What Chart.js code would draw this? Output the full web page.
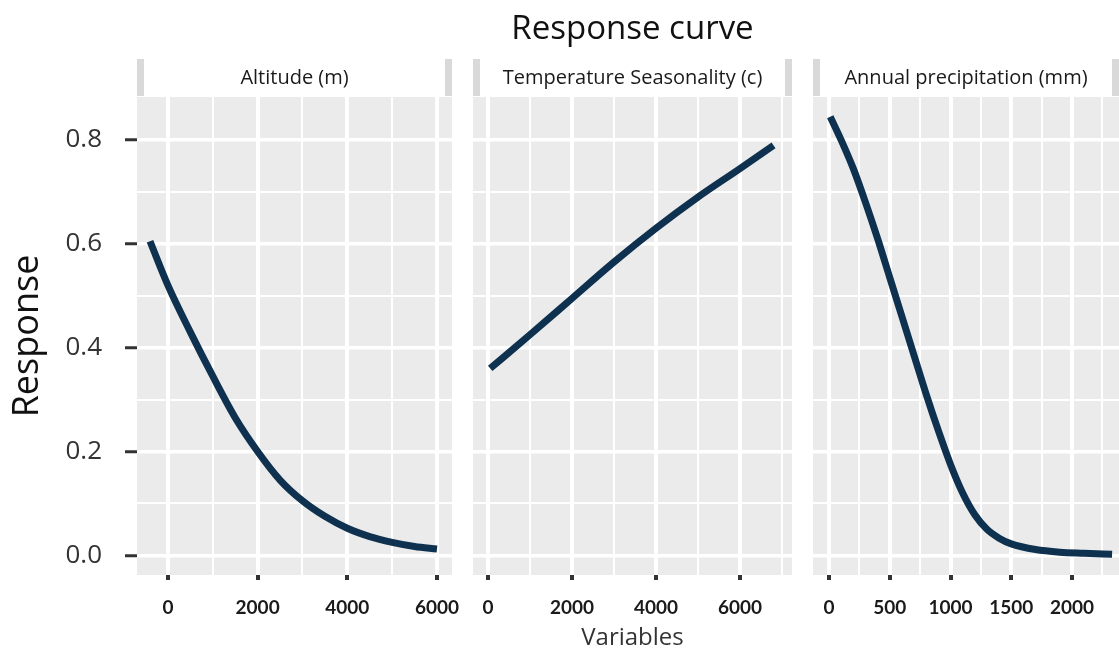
<!DOCTYPE html>
<html>
<head>
<meta charset="utf-8">
<title>Response curve</title>
<script src="https://cdn.jsdelivr.net/npm/chart.js@4.4.1/dist/chart.umd.min.js"></script>
<style>
    body { margin: 0; background: #fff; width: 1119px; height: 653px; overflow: hidden; position: relative; }
    .panel { position: absolute; top: 0; height: 653px; }
    #p1 { left: 0; width: 462px; }
    #p2 { left: 463px; width: 339px; }
    #p3 { left: 803px; width: 316px; }
</style>
</head>
<body>
<div class="panel" id="p1"><canvas id="c1"></canvas></div>
<div class="panel" id="p2"><canvas id="c2"></canvas></div>
<div class="panel" id="p3"><canvas id="c3"></canvas></div>
<script>
/**
 * 数据
 */
// Altitude (m)
var altX = [-400, 0, 500, 1000, 1500, 2000, 2500, 3000, 3500, 4000, 4500, 5000, 5500, 6000];
var altY = [0.605, 0.52, 0.43, 0.345, 0.265, 0.20, 0.145, 0.105, 0.075, 0.052, 0.036, 0.025, 0.017, 0.012];
var altMajor = [0, 2000, 4000, 6000];
var altMinor = [1000, 3000, 5000];

// Temperature Seasonality (c)
var tempX = [50, 1000, 2000, 3000, 4000, 5000, 6000, 6800];
var tempY = [0.36, 0.425, 0.495, 0.565, 0.63, 0.69, 0.745, 0.79];
var tempMajor = [0, 2000, 4000, 6000];
var tempMinor = [1000, 3000, 5000, 7000];

// Annual precipitation (mm)
var precX = [10, 100, 200, 300, 400, 500, 600, 700, 800, 900, 1000, 1100, 1200, 1300, 1400, 1500, 1700, 1900, 2100, 2330];
var precY = [0.845, 0.80, 0.745, 0.68, 0.61, 0.535, 0.46, 0.385, 0.31, 0.24, 0.175, 0.12, 0.078, 0.05, 0.033, 0.022, 0.011, 0.006, 0.004, 0.002];
var precMajor = [0, 500, 1000, 1500, 2000];
var precMinor = [250, 750, 1250, 1750, 2250];

// Response
var yMajor = [0, 0.2, 0.4, 0.6, 0.8];
var yMinor = [0.1, 0.3, 0.5, 0.7];

Chart.defaults.font.family = 'Open Sans';

/**
 * 灰色面板 + 标题条
 */
var panelBg = {
    id: 'panelBg',
    beforeDraw: function (chart) {
        var a = chart.chartArea, ctx = chart.ctx;
        ctx.save();
        ctx.fillStyle = '#ebebeb';
        ctx.fillRect(a.left, a.top, a.right - a.left, a.bottom - a.top);
        ctx.fillStyle = '#d9d9d9';
        ctx.fillRect(a.left, a.top - 38, a.right - a.left, 37);
        ctx.fillStyle = '#ffffff';
        ctx.fillRect(a.left + 7, a.top - 38, a.right - a.left - 14, 37);
        ctx.restore();
    }
};

function mergeTicks(major, minor) {
    return major.concat(minor).sort(function (a, b) { return a - b; });
}

function makePanel(id, cfg) {
    var isMajorX = function (v) { return cfg.xMajor.indexOf(v) >= 0; };
    var isMajorY = function (v) { return yMajor.indexOf(v) >= 0; };

    return new Chart(document.getElementById(id), {
        type: 'line',
        data: {
            datasets: [{
                data: cfg.xs.map(function (x, i) { return {x: x, y: cfg.ys[i]}; }),
                borderColor: '#0e3150',
                borderWidth: 7,
                pointRadius: 0,
                cubicInterpolationMode: 'monotone',
                fill: false
            }]
        },
        options: {
            responsive: true,
            maintainAspectRatio: false,
            animation: false,
            layout: {padding: {top: cfg.padTop, left: cfg.padLeft, right: cfg.padRight, bottom: 0}},
            plugins: {
                legend: {display: false},
                tooltip: {enabled: false},
                title: {
                    display: !!cfg.title,
                    text: cfg.title || '',
                    fullSize: false,
                    color: '#111',
                    font: {size: 33, weight: 'normal', lineHeight: '34px'},
                    padding: {top: 13, bottom: 12}
                },
                subtitle: {
                    display: true,
                    text: cfg.strip,
                    fullSize: false,
                    color: '#1a1a1a',
                    font: {size: 20, lineHeight: '20px'},
                    padding: {top: 9, bottom: 9}
                }
            },
            scales: {
                x: {
                    type: 'linear',
                    min: cfg.xMin,
                    max: cfg.xMax,
                    afterBuildTicks: function (axis) {
                        axis.ticks = mergeTicks(cfg.xMajor, cfg.xMinor).map(function (v) { return {value: v}; });
                    },
                    afterFit: function (axis) {
                        axis.height = 78;
                        axis.paddingLeft = 0;
                        axis.paddingRight = 0;
                    },
                    ticks: {
                        autoSkip: false,
                        maxRotation: 0,
                        padding: 16,
                        color: '#1a1a1a',
                        font: {family: 'Lato', size: 19, weight: 'bold'},
                        callback: function (v) { return isMajorX(v) ? String(v) : ''; }
                    },
                    grid: {
                        color: '#ffffff',
                        lineWidth: function (c) { return c.tick && isMajorX(c.tick.value) ? 4 : 2; },
                        tickLength: 5,
                        tickWidth: 4,
                        tickColor: function (c) { return c.tick && isMajorX(c.tick.value) ? '#333' : 'rgba(0,0,0,0)'; }
                    },
                    border: {display: false},
                    title: {
                        display: !!cfg.xTitle,
                        text: cfg.xTitle || '',
                        color: '#333',
                        font: {size: 24},
                        padding: {top: 0, bottom: 0}
                    }
                },
                y: {
                    type: 'linear',
                    min: -0.038,
                    max: 0.883,
                    afterBuildTicks: function (axis) {
                        axis.ticks = mergeTicks(yMajor, yMinor).map(function (v) { return {value: v}; });
                    },
                    afterFit: function (axis) {
                        axis.width = cfg.yWidth;
                        axis.paddingTop = 0;
                        axis.paddingBottom = 0;
                    },
                    ticks: {
                        display: cfg.yLabels,
                        autoSkip: false,
                        padding: 23,
                        color: '#333',
                        font: {size: 26},
                        callback: function (v) { return isMajorY(v) ? v.toFixed(1) : ''; }
                    },
                    grid: {
                        color: '#ffffff',
                        lineWidth: function (c) { return c.tick && isMajorY(c.tick.value) ? 3.5 : 2; },
                        drawTicks: cfg.yLabels,
                        tickLength: 12,
                        tickWidth: 3,
                        tickColor: function (c) { return c.tick && isMajorY(c.tick.value) ? '#333' : 'rgba(0,0,0,0)'; }
                    },
                    border: {display: false},
                    title: {
                        display: !!cfg.yTitle,
                        text: cfg.yTitle || '',
                        color: '#111',
                        font: {size: 36},
                        padding: {top: 6, bottom: 0}
                    }
                }
            }
        },
        plugins: [panelBg]
    });
}

//海拔
makePanel('c1', {
    xs: altX, ys: altY, xMajor: altMajor, xMinor: altMinor,
    xMin: -690, xMax: 6335,
    strip: 'Altitude (m)', padTop: 59, padLeft: 0, padRight: 10,
    yLabels: true, yWidth: 137, yTitle: 'Response'
});

//温度季节性
makePanel('c2', {
    xs: tempX, ys: tempY, xMajor: tempMajor, xMinor: tempMinor,
    xMin: -360, xMax: 7240,
    strip: 'Temperature Seasonality (c)', padTop: 0, padLeft: 10, padRight: 10,
    title: 'Response curve',
    yLabels: false, yWidth: 0, xTitle: 'Variables'
});

//年降水量
makePanel('c3', {
    xs: precX, ys: precY, xMajor: precMajor, xMinor: precMinor,
    xMin: -132, xMax: 2387,
    strip: 'Annual precipitation (mm)', padTop: 59, padLeft: 10, padRight: 0,
    yLabels: false, yWidth: 0
});
</script>
</body>
</html>
